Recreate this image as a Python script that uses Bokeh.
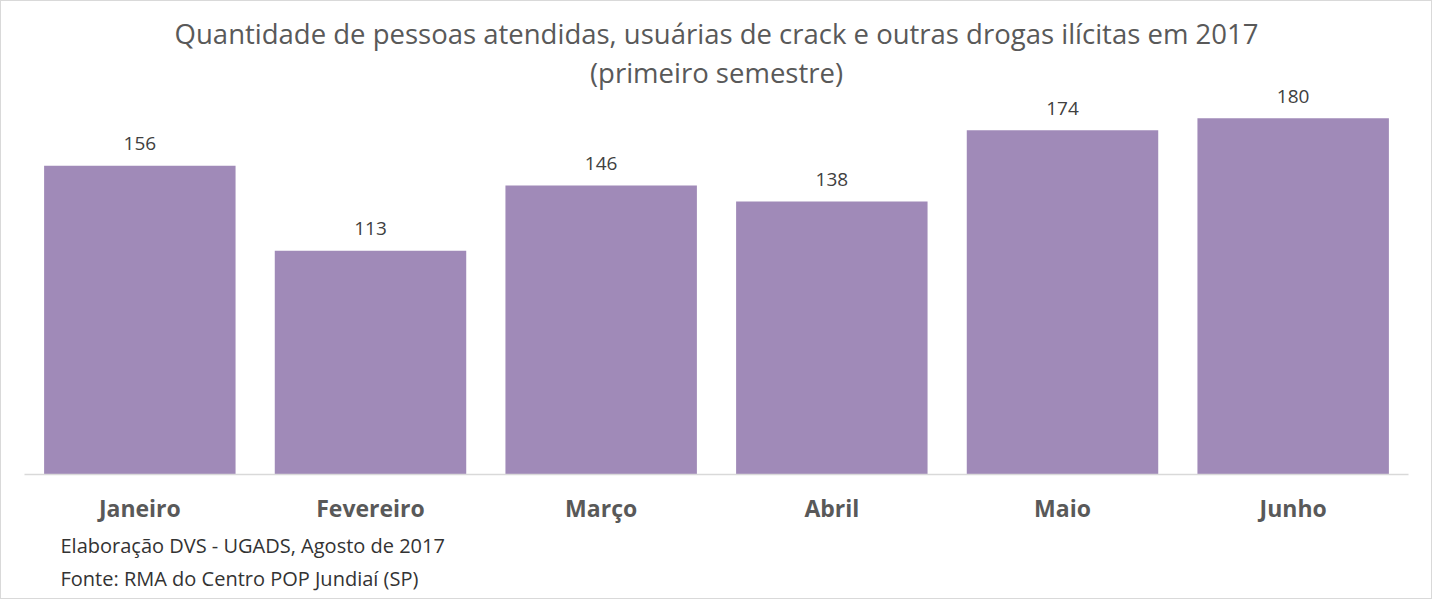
from bokeh.plotting import figure
from bokeh.models import ColumnDataSource, LabelSet, Label, FactorRange, Range1d, Title
from bokeh.core.properties import value
from bokeh.embed import file_html
from bokeh.resources import INLINE

months = ["Janeiro", "Fevereiro", "Março", "Abril", "Maio", "Junho"]
values = [156, 113, 146, 138, 174, 180]
title_lines = ["Quantidade de pessoas atendidas, usuárias de crack e outras drogas ilícitas em 2017",
               "(primeiro semestre)"]
notes = ["Elaboração DVS - UGADS, Agosto de 2017", "Fonte: RMA do Centro POP Jundiaí (SP)"]

Y_MAX = 239
FONT = "Open Sans"

src = ColumnDataSource(dict(x=months, y=values, t=[str(v) for v in values]))

p = figure(x_range=FactorRange(*months, range_padding=0), y_range=Range1d(0, Y_MAX),
           width=1432, height=599, output_backend="svg", toolbar_location=None,
           y_axis_location=None, min_border_left=23, min_border_right=25,
           min_border_top=0, min_border_bottom=126)
p.styles = {"border": "1px solid #d9d9d9"}
p.outline_line_color = None
p.grid.visible = False
p.background_fill_color = "white"
p.border_fill_color = "white"

p.vbar(x="x", top="y", width=0.83, source=src, fill_color="#A08AB8", line_color=None)

p.add_layout(LabelSet(x="x", y="y", text="t", source=src, y_offset=22, text_align="center",
                      text_baseline="middle", text_font=value(FONT), text_font_size=value("19px"),
                      text_color=value("#404040")))

ax = p.xaxis[0]
ax.axis_line_color = "#d9d9d9"
ax.axis_line_width = 1.5
ax.major_tick_line_color = None
ax.minor_tick_line_color = None
ax.major_label_text_font = FONT
ax.major_label_text_font_style = "bold"
ax.major_label_text_font_size = "23px"
ax.major_label_text_color = "#595959"
ax.major_label_standoff = 11

for line, off in zip(title_lines, [-32, -71]):
    p.add_layout(Label(x=3, y=Y_MAX, y_offset=off, text=line, text_align="center",
                       text_baseline="middle", text_font=FONT, text_font_size="27.5px",
                       text_color="#595959"))

for line, so in zip(notes, [7, 0]):
    p.add_layout(Title(text=line, align="left", offset=36, standoff=so,
                       text_font=FONT, text_font_size="20px", text_font_style="normal",
                       text_color="#333333"), "below")

open("out.html", "w").write(file_html(p, INLINE))
